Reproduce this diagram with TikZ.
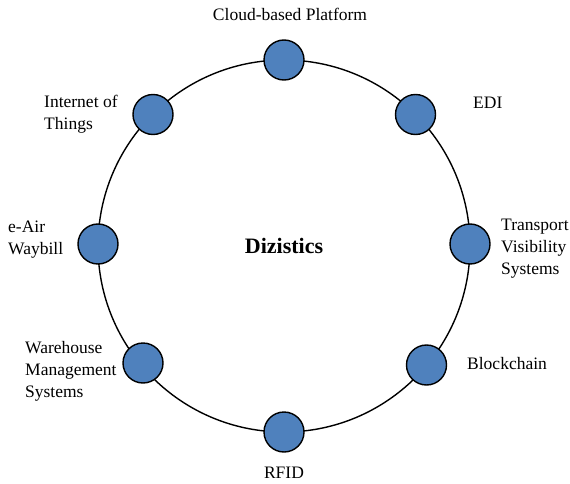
\documentclass[tikz,border=0pt]{standalone}
\usepackage{fontspec}
\setmainfont{Liberation Serif}
\definecolor{nodeblue}{HTML}{4F81BD}
\begin{document}
\begin{tikzpicture}[x=1pt,y=-1pt,
  dot/.style={circle,draw=black,line width=1.4pt,fill=nodeblue,minimum size=40pt,inner sep=0pt},
  lbl/.style={inner sep=0pt,font=\fontsize{17.5}{22}\selectfont,align=left},
  ring/.style={line width=1.4pt,draw=black}]
\useasboundingbox (0,0) rectangle (570,484);
\coordinate (c) at (284,246);
\draw[ring] (c) circle[radius=186pt];
\node[dot] (n1) at (284,60) {};
\node[dot] (n2) at (415.5,114.5) {};
\node[dot] (n3) at (470,244) {};
\node[dot] (n4) at (426.5,365) {};
\node[dot] (n5) at (284,432) {};
\node[dot] (n6) at (143,363) {};
\node[dot] (n7) at (98,244) {};
\node[dot] (n8) at (153,114.5) {};
\node[font=\fontsize{22}{26}\selectfont\bfseries,inner sep=0pt] (t) at (c) {Dizistics};
\node[lbl,anchor=base] (l1) at (290,21) {Cloud-based Platform};
\node[lbl,anchor=west] (l2) at (473,103) {EDI};
\node[lbl,anchor=west] (l3) at (501,249) {Transport\\Visibility\\Systems};
\node[lbl,anchor=west] (l4) at (467,364) {Blockchain};
\node[lbl,anchor=base] (l5) at (284,478) {RFID};
\node[lbl,anchor=west] (l6) at (25,371) {Warehouse\\Management\\Systems};
\node[lbl,anchor=west] (l7) at (8,240) {e-Air\\Waybill};
\node[lbl,anchor=west] (l8) at (44,114) {Internet of\\Things};
\end{tikzpicture}
\end{document}
